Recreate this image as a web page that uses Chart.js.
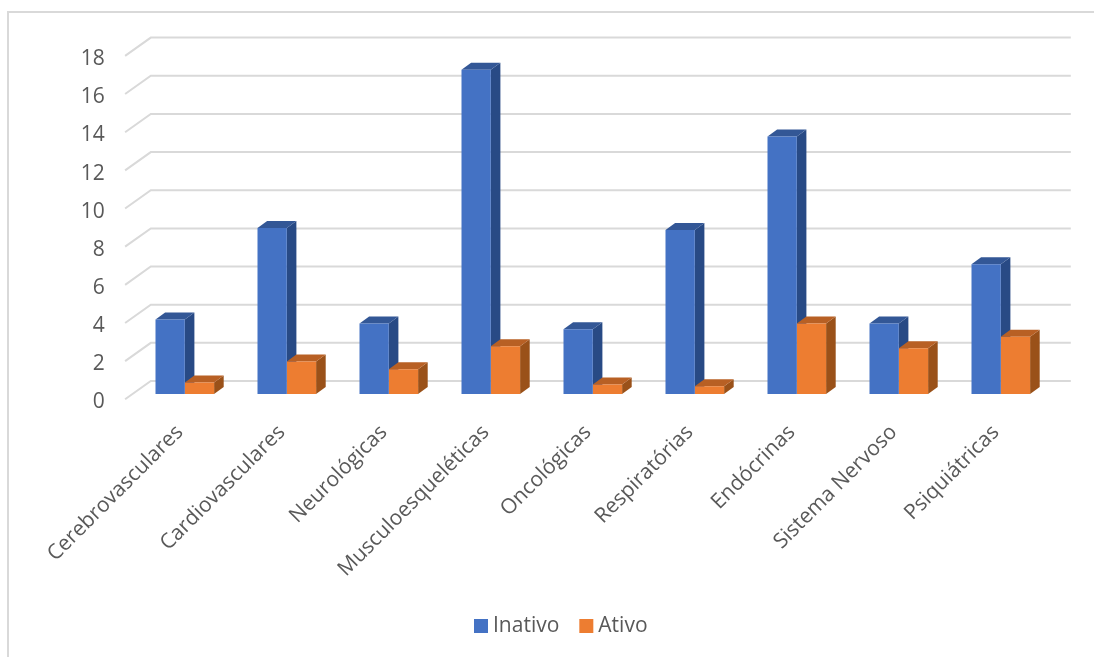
<!DOCTYPE html>
<html lang="pt">
<head>
<meta charset="utf-8">
<title>Doenças por nível de atividade</title>
<script src="https://cdn.jsdelivr.net/npm/chart.js@4"></script>
<style>
    html, body { margin: 0; padding: 0; background: #fff; }
    canvas { display: block; }
</style>
</head>
<body>
<canvas id="grafico" width="1094" height="657"></canvas>
<script>
const categorias = ['Cerebrovasculares', 'Cardiovasculares', 'Neurológicas', 'Musculoesqueléticas', 'Oncológicas', 'Respiratórias', 'Endócrinas', 'Sistema Nervoso', 'Psiquiátricas'];
const inativo = [3.9, 8.7, 3.7, 17, 3.4, 8.6, 13.5, 3.7, 6.8];
const ativo = [0.6, 1.7, 1.3, 2.5, 0.5, 0.4, 3.7, 2.4, 3.0];

const corTexto = '#595959';
const corGrade = '#d9d9d9';
const fonte = '"Open Sans", sans-serif';

// Profundidade das barras e do fundo do gráfico, em pixels
const barraDx = 9.6, barraDy = 7;
const fundoDx = 17, fundoDy = 13;
const frenteDx = 8.7, frenteDy = 5.3;

// Faces de topo e lateral de cada série
const facesBarra = [
    { topo: '#335796', lado: '#284a85' },
    { topo: '#b86024', lado: '#9a5119' }
];

const moldura = {
    id: 'moldura',
    beforeDraw(chart) {
        const { ctx } = chart;
        ctx.save();
        ctx.strokeStyle = corGrade;
        ctx.lineWidth = 2;
        ctx.beginPath();
        ctx.moveTo(8, chart.height);
        ctx.lineTo(8, 12);
        ctx.lineTo(chart.width, 12);
        ctx.stroke();
        ctx.restore();
    }
};

// Grade do fundo: linha horizontal mais o trecho inclinado até o eixo
const grade3d = {
    id: 'grade3d',
    beforeDatasetsDraw(chart) {
        const { ctx, chartArea } = chart;
        const y = chart.scales.y;
        ctx.save();
        ctx.strokeStyle = corGrade;
        ctx.lineWidth = 2;
        y.ticks.forEach(tick => {
            const py = y.getPixelForValue(tick.value);
            ctx.beginPath();
            ctx.moveTo(chartArea.left - frenteDx, py + frenteDy);
            ctx.lineTo(chartArea.left + fundoDx, py - fundoDy);
            ctx.lineTo(chartArea.right + fundoDx + 2, py - fundoDy);
            ctx.stroke();
        });
        ctx.restore();
    }
};

// As faces ficam atrás das frentes, que a própria biblioteca desenha depois
const barras3d = {
    id: 'barras3d',
    beforeDatasetsDraw(chart) {
        const { ctx } = chart;
        ctx.save();
        chart.data.datasets.forEach((ds, i) => {
            chart.getDatasetMeta(i).data.forEach(barra => {
                const esq = barra.x - barra.width / 2;
                const dir = barra.x + barra.width / 2;
                ctx.fillStyle = facesBarra[i].lado;
                ctx.beginPath();
                ctx.moveTo(dir, barra.y);
                ctx.lineTo(dir + barraDx, barra.y - barraDy);
                ctx.lineTo(dir + barraDx, barra.base - barraDy);
                ctx.lineTo(dir, barra.base);
                ctx.closePath();
                ctx.fill();
                ctx.fillStyle = facesBarra[i].topo;
                ctx.beginPath();
                ctx.moveTo(esq, barra.y);
                ctx.lineTo(esq + barraDx, barra.y - barraDy);
                ctx.lineTo(dir + barraDx, barra.y - barraDy);
                ctx.lineTo(dir, barra.y);
                ctx.closePath();
                ctx.fill();
            });
        });
        ctx.restore();
    }
};

// Legenda própria: o espaço entre o quadrado e o texto é menor que o da padrão
const legendaBase = {
    id: 'legendaBase',
    afterDraw(chart) {
        const { ctx } = chart;
        let x = 474;
        ctx.save();
        ctx.font = '21px ' + fonte;
        ctx.textBaseline = 'middle';
        chart.data.datasets.forEach(ds => {
            ctx.fillStyle = ds.backgroundColor;
            ctx.fillRect(x, 619, 14, 14);
            ctx.fillStyle = corTexto;
            ctx.fillText(ds.label, x + 19, 626);
            x += 19 + ctx.measureText(ds.label).width + 20;
        });
        ctx.restore();
    }
};

new Chart(document.getElementById('grafico'), {
    type: 'bar',
    data: {
        labels: categorias,
        datasets: [
            { label: 'Inativo', data: inativo, backgroundColor: '#4472c4' },
            { label: 'Ativo', data: ativo, backgroundColor: '#ed7d31' }
        ]
    },
    plugins: [moldura, grade3d, barras3d, legendaBase],
    options: {
        responsive: false,
        animation: false,
        categoryPercentage: 0.5745,
        barPercentage: 1,
        layout: { padding: { top: 50.6, right: 42.2, bottom: 0, left: 0 } },
        scales: {
            x: {
                grid: { display: false },
                border: { display: false },
                afterFit: scale => { scale.height = 263; },
                ticks: {
                    autoSkip: false,
                    minRotation: 45,
                    maxRotation: 45,
                    padding: 18,
                    labelOffset: -5,
                    color: corTexto,
                    font: { family: fonte, size: 21 }
                }
            },
            y: {
                min: 0,
                max: 18,
                grid: { display: false },
                border: { display: false },
                afterFit: scale => { scale.width = 133.8; },
                ticks: {
                    stepSize: 2,
                    padding: 21,
                    labelOffset: 8.5,
                    color: corTexto,
                    font: { family: fonte, size: 21 }
                }
            }
        },
        plugins: {
            tooltip: { enabled: false },
            legend: { display: false }
        }
    }
});
</script>
</body>
</html>
